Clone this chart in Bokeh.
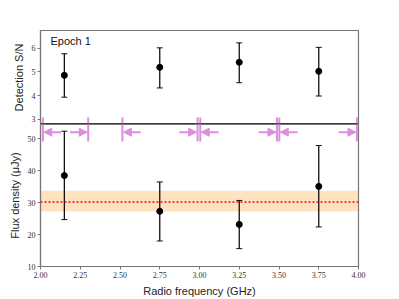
import numpy as np
from bokeh.plotting import figure
from bokeh.models import (ColumnDataSource, Whisker, TeeHead, Span, BoxAnnotation,
                          Arrow, NormalHead, Label, FixedTicker, Range1d, NumeralTickFormatter)
from bokeh.layouts import column
from bokeh.embed import file_html
from bokeh.resources import INLINE

# ---- data ----
freq = [2.15, 2.75, 3.25, 3.75]
snr = [4.85, 5.19, 5.40, 5.02]
snr_lo = [3.93, 4.32, 4.54, 3.98]
snr_hi = [5.76, 6.01, 6.22, 6.03]
flux = [38.5, 27.3, 23.2, 35.1]
flux_lo = [24.7, 18.0, 15.6, 22.4]
flux_hi = [52.4, 36.5, 30.7, 47.9]
mean_flux = 30.2
mean_flux_lo = 27.2
mean_flux_hi = 33.7
band_lo = [2.015, 2.515, 3.005, 3.502]
band_hi = [2.300, 2.988, 3.487, 3.990]
snr_ticks = [3, 4, 5, 6]
flux_ticks = [10, 20, 30, 40, 50]
freq_ticks = [2.0, 2.25, 2.5, 2.75, 3.0, 3.25, 3.5, 3.75, 4.0]

# ---- style ----
PINK = "#dc8fdc"
SPINE = "#777777"
TICK_FONT = "Liberation Serif"
LABEL_FONT = "Liberation Sans"
ARROW_LEN = 0.115
FRAME_W = 318
LEFT = 40

xr = Range1d(2.0, 4.0)


def style(p):
    p.outline_line_color = SPINE
    p.outline_line_width = 1.2
    p.xgrid.visible = False
    p.ygrid.visible = False
    p.background_fill_color = "white"
    p.border_fill_color = "white"
    for ax in p.axis:
        ax.axis_line_color = SPINE
        ax.axis_line_width = 1.2
        ax.major_tick_line_color = SPINE
        ax.major_tick_out = 3
        ax.major_tick_in = 0
        ax.minor_tick_line_color = None
        ax.major_label_text_font = TICK_FONT
        ax.major_label_text_font_size = "8px"
        ax.major_label_text_color = "#333333"
        ax.major_label_standoff = 2
        ax.axis_label_text_font = LABEL_FONT
        ax.axis_label_text_font_size = "11px"
        ax.axis_label_text_font_style = "normal"
        ax.axis_label_text_color = "#222222"
        ax.axis_label_standoff = 4


# ---------------- upper panel ----------------
p1 = figure(frame_width=FRAME_W, frame_height=94, x_range=xr, y_range=Range1d(2.78, 6.74),
            x_axis_location=None, output_backend="svg", toolbar_location=None,
            min_border_left=LEFT, min_border_right=10, min_border_top=30, min_border_bottom=0)
style(p1)
p1.yaxis.axis_label = "Detection S/N"
p1.yaxis.ticker = FixedTicker(ticks=snr_ticks)

s1 = ColumnDataSource(dict(x=freq, y=snr, lo=snr_lo, hi=snr_hi))
p1.add_layout(Whisker(base="x", upper="hi", lower="lo", source=s1, dimension="height",
                      line_color="#111111", line_width=1.3,
                      upper_head=TeeHead(size=6, line_color="#111111", line_width=1),
                      lower_head=TeeHead(size=6, line_color="#111111", line_width=1)))
p1.scatter("x", "y", source=s1, size=6, color="black")

# band edge bars (upper part)
edges = band_lo + band_hi
p1.segment(x0=edges, y0=[2.78] * len(edges), x1=edges, y1=[3.07] * len(edges),
           line_color=PINK, line_width=2)
p1.add_layout(Span(location=2.80, dimension="width", line_color="black", line_width=1.2))
p1.add_layout(Label(x=2.063, y=6.31, text="Epoch 1", text_font=LABEL_FONT,
                    text_font_size="11px", text_baseline="middle", text_color="#111111"))

# ---------------- lower panel ----------------
p2 = figure(frame_width=FRAME_W, frame_height=142, x_range=xr, y_range=Range1d(10, 54.5),
            output_backend="svg", toolbar_location=None,
            min_border_left=LEFT, min_border_right=10, min_border_top=0, min_border_bottom=33)
style(p2)
p2.yaxis.axis_label = "Flux density (μJy)"
p2.xaxis.axis_label = "Radio frequency (GHz)"
p2.yaxis.ticker = FixedTicker(ticks=flux_ticks)
p2.xaxis.ticker = FixedTicker(ticks=freq_ticks)
p2.xaxis.formatter = NumeralTickFormatter(format="0.00")

p2.add_layout(BoxAnnotation(bottom=mean_flux_lo, top=mean_flux_hi, fill_color="darkorange",
                            fill_alpha=0.25, line_alpha=0, level="underlay"))
p2.add_layout(Span(location=mean_flux, dimension="width", line_color="red",
                   line_dash="2 2", line_width=1.5))

s2 = ColumnDataSource(dict(x=freq, y=flux, lo=flux_lo, hi=flux_hi))
p2.add_layout(Whisker(base="x", upper="hi", lower="lo", source=s2, dimension="height",
                      line_color="#111111", line_width=1.3,
                      upper_head=TeeHead(size=6, line_color="#111111", line_width=1),
                      lower_head=TeeHead(size=6, line_color="#111111", line_width=1)))
p2.scatter("x", "y", source=s2, size=6, color="black")

# band edge bars (lower part) and arrows
p2.segment(x0=edges, y0=[49.2] * len(edges), x1=edges, y1=[54.5] * len(edges),
           line_color=PINK, line_width=2)
arrow_y = 52.1
n = len(band_lo)
sa = ColumnDataSource(dict(
    xs=[lo + ARROW_LEN for lo in band_lo] + [hi - ARROW_LEN for hi in band_hi],
    xe=[lo + 0.006 for lo in band_lo] + [hi - 0.006 for hi in band_hi],
    ys=[arrow_y] * (2 * n), ye=[arrow_y] * (2 * n)))
p2.add_layout(Arrow(x_start="xs", y_start="ys", x_end="xe", y_end="ye", source=sa,
                    line_color=PINK, line_width=2,
                    end=NormalHead(size=8, fill_color=PINK, line_color=PINK, line_width=1)))

layout = column(p1, p2, spacing=0)
open("out.html", "w").write(file_html(layout, INLINE))
